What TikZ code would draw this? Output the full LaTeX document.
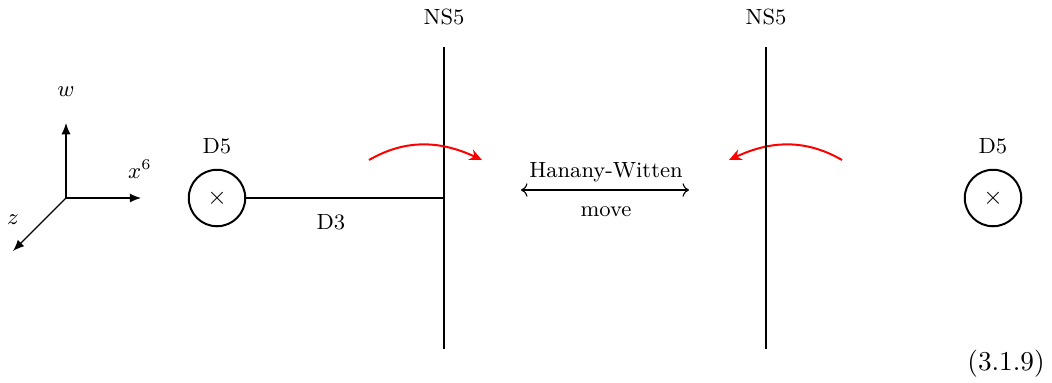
\documentclass[tikz,border=0pt]{standalone}
\usetikzlibrary{arrows.meta}
\begin{document}
\begin{tikzpicture}[x=0.4pt,y=-0.4pt,
  lab/.style={font=\fontsize{8.8}{10}\selectfont, inner sep=0pt},
  axis/.style={line width=0.45pt,-{Latex[length=4.5pt,width=3.6pt]}},
  brane/.style={line width=0.8pt},
  dfive/.style={circle,draw,line width=0.8pt,minimum size=22.6pt,inner sep=0pt,font=\fontsize{10}{10}\selectfont},
  hw/.style={red,line width=0.8pt,-{Stealth[length=5pt,width=4.5pt]}}]
\useasboundingbox (0,0) rectangle (1052,382);
% axes
\coordinate (o) at (66,198);
\coordinate (wend) at (66,123);
\coordinate (xend) at (141,198);
\coordinate (zend) at (13,251);
\draw[axis] (o) -- (wend);
\draw[axis] (o) -- (xend);
\draw[axis] (o) -- (zend);
\node[lab] (wl) at (66,92) {$w$};
\node[lab] (xl) at (140,169) {$x^6$};
\node[lab] (zl) at (13,220) {$z$};
% left D5
\node[dfive] (d5a) at (217,198) {$\times$};
\node[lab] (d5al) at (217,146) {D5};
% NS5 left
\coordinate (ns1t) at (444,47);
\coordinate (ns1b) at (444,349);
\draw[brane] (ns1t) -- (ns1b);
\node[lab] (ns1l) at (444,17) {NS5};
% D3
\coordinate (d3e) at (444,198);
\draw[brane] (d5a) -- (d3e);
\node[lab] (d3l) at (331,222) {D3};
% red arcs
\coordinate (a1s) at (369,160);
\coordinate (a1e) at (482,160);
\draw[hw] (a1s) to[out=30,in=155] (a1e);
\coordinate (a2s) at (842,160);
\coordinate (a2e) at (729,160);
\draw[hw] (a2s) to[out=150,in=25] (a2e);
% Hanany-Witten move
\coordinate (hwl) at (521,190);
\coordinate (hwr) at (689,190);
\draw[line width=0.45pt,<->] (hwl) -- (hwr);
\node[lab] (hwt) at (606,172) {Hanany-Witten};
\node[lab] (hwb) at (606,212) {move};
% NS5 right
\coordinate (ns2t) at (766,47);
\coordinate (ns2b) at (766,349);
\draw[brane] (ns2t) -- (ns2b);
\node[lab] (ns2l) at (766,17) {NS5};
% right D5
\node[dfive] (d5b) at (993,198) {$\times$};
\node[lab] (d5bl) at (993,146) {D5};
% equation number
\node[font=\fontsize{10.9}{12}\selectfont, inner sep=0pt] (eq) at (1006,364) {(3.1.9)};
\end{tikzpicture}
\end{document}
